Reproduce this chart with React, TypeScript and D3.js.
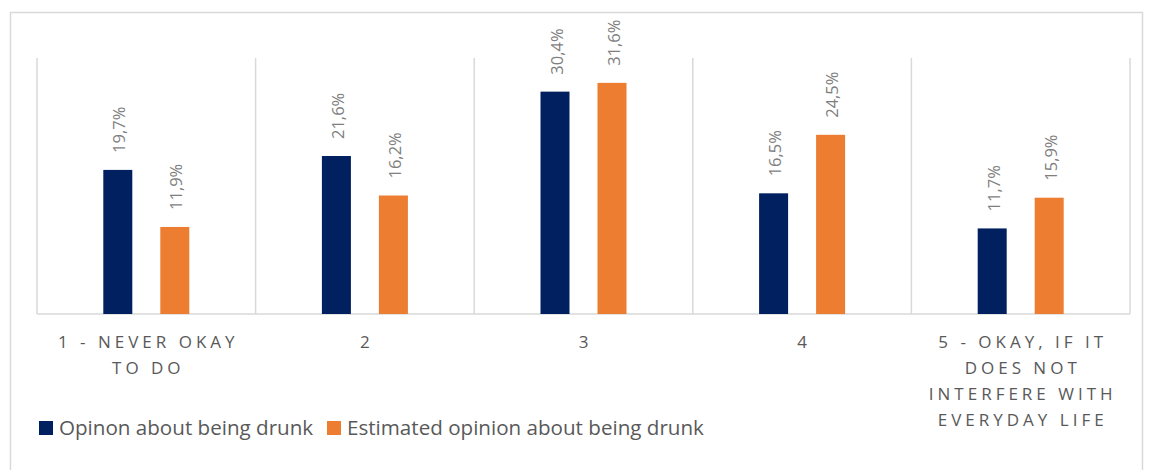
import React from "react";
import * as d3 from "d3";

const categories: string[][] = [
  ["1 - NEVER OKAY", "TO DO"],
  ["2"],
  ["3"],
  ["4"],
  ["5 - OKAY, IF IT", "DOES NOT", "INTERFERE WITH", "EVERYDAY LIFE"],
];
const seriesNames = ["Opinon about being drunk", "Estimated opinion about being drunk"];
const opinion = [19.7, 21.6, 30.4, 16.5, 11.7];
const estimated = [11.9, 16.2, 31.6, 24.5, 15.9];
const colors = ["#002060", "#ED7D31"];

const W = 1149;
const H = 470;
const plot = { left: 37, right: 1130, top: 58, bottom: 314 };

export default function App() {
  const x = d3
    .scaleBand<number>()
    .domain(d3.range(categories.length))
    .range([plot.left, plot.right]);
  const y = d3.scaleLinear().domain([0, 35]).range([plot.bottom, plot.top]);
  const barW = 29;
  const offset = 28.5;
  const series = [opinion, estimated];
  const fmt = (v: number) => v.toFixed(1).replace(".", ",") + "%";

  return (
    <svg
      width={W}
      height={H}
      style={{ position: "absolute", left: 0, top: 0, background: "#fff" }}
    >
      <rect x={10.5} y={12.5} width={1132} height={460} fill="#fff" stroke="#d9d9d9" strokeWidth={1.5} />
      {d3.range(categories.length + 1).map((i) => {
        const xx = i < categories.length ? x(i)! : plot.right;
        return (
          <line key={i} x1={xx} x2={xx} y1={plot.top} y2={plot.bottom} stroke="#d9d9d9" strokeWidth={1.5} />
        );
      })}
      <line x1={plot.left} x2={plot.right} y1={plot.bottom} y2={plot.bottom} stroke="#d9d9d9" strokeWidth={1.5} />
      {series.map((vals, s) =>
        vals.map((v, i) => {
          const cx = x(i)! + x.bandwidth() / 2 + (s === 0 ? -offset : offset);
          const top = y(v);
          return (
            <g key={`${s}-${i}`}>
              <rect x={cx - barW / 2} y={top} width={barW} height={plot.bottom - top} fill={colors[s]} />
              <text
                transform={`translate(${cx + 1},${top - 17}) rotate(-90)`}
                textAnchor="start"
                dominantBaseline="central"
                fontFamily="Open Sans"
                fontSize={16.5}
                fill="#7f7f7f"
              >
                {fmt(v)}
              </text>
            </g>
          );
        })
      )}
      {categories.map((lines, i) => (
        <text
          key={i}
          x={x(i)! + x.bandwidth() / 2}
          textAnchor="middle"
          fontFamily="Open Sans"
          fontSize={17}
          letterSpacing={4}
          fill="#595959"
        >
          {lines.map((ln, j) => (
            <tspan key={j} x={x(i)! + x.bandwidth() / 2 + 2} y={348 + j * 26}>
              {ln}
            </tspan>
          ))}
        </text>
      ))}
      {seriesNames.map((name, s) => {
        const lx = s === 0 ? 39 : 327;
        return (
          <g key={name}>
            <rect x={lx} y={421} width={14} height={14} fill={colors[s]} />
            <text x={lx + 20} y={427} dominantBaseline="central" fontFamily="Open Sans" fontSize={20.6} fill="#595959">
              {name}
            </text>
          </g>
        );
      })}
    </svg>
  );
}
